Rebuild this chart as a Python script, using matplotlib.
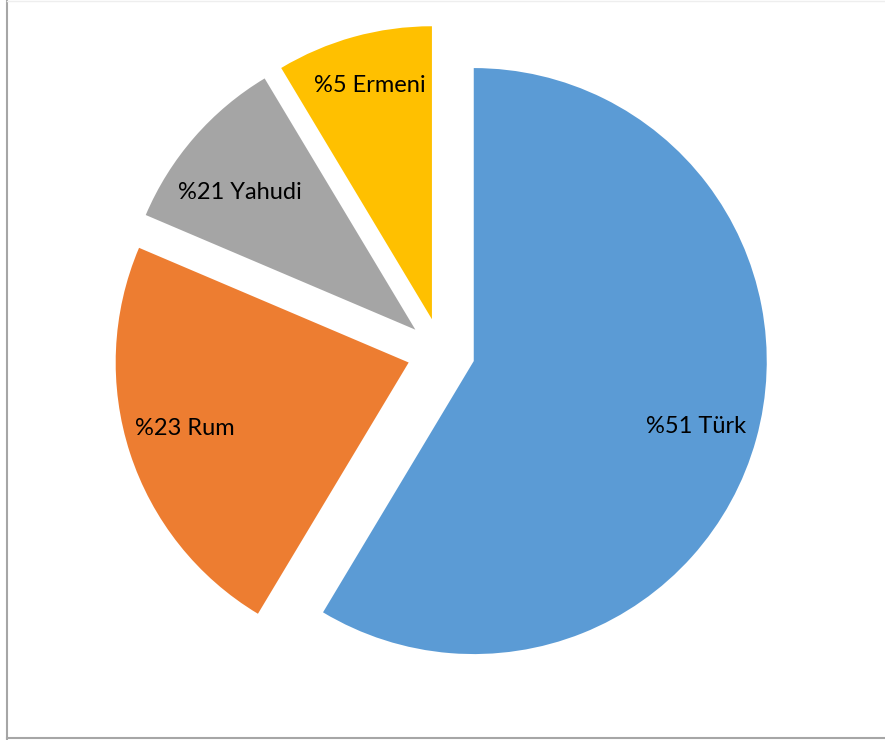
import matplotlib
matplotlib.use("Agg")
import matplotlib.pyplot as plt
from matplotlib.lines import Line2D

# slice sizes as drawn (percent of the circle), clockwise from 12 o'clock
groups = ["Türk", "Rum", "Yahudi", "Ermeni"]
shares = [58.6, 22.8, 10.0, 8.6]
labels = ["%51 Türk", "%23 Rum", "%21 Yahudi", "%5 Ermeni"]
colors = ["#5B9BD5", "#ED7D31", "#A5A5A5", "#FFC000"]
# small nudges of the data labels, in pixels (right, down)
label_nudge = [(-1, 4), (-4, -6), (-1, 15), (0, -11)]

W, H = 885, 740
fig = plt.figure(figsize=(W / 100, H / 100), dpi=100)
ax = fig.add_axes([0, 0, 1, 1])

# pie centre at pixel (441, 352), radius 293 px
r_px, cx, cy = 293.0, 441.0, 352.0
ax.axis("off")

wedges, texts = ax.pie(shares, labels=labels, colors=colors, startangle=90,
                       counterclock=False, explode=[0.116] * len(shares),
                       labeldistance=0.79, radius=1.0,
                       wedgeprops=dict(linewidth=0),
                       textprops=dict(fontsize=17, family="Lato", color="black"))
ax.set_xlim(-cx / r_px, (W - cx) / r_px)
ax.set_ylim(-(H - cy) / r_px, cy / r_px)
ax.set_aspect("auto")
for t, (dx, dy) in zip(texts, label_nudge):
    x, y = t.get_position()
    t.set_position((x + dx / r_px, y - dy / r_px))
    t.set_horizontalalignment("center")
    t.set_verticalalignment("center")

# chart frame
fig.add_artist(Line2D([7 / W, 7 / W], [0, 1], transform=fig.transFigure,
                      color="#A6A6A6", linewidth=1.5))
fig.add_artist(Line2D([7 / W, 1], [2 / H, 2 / H], transform=fig.transFigure,
                      color="#A6A6A6", linewidth=1.5))
fig.add_artist(Line2D([7 / W, 1], [1 - 0.5 / H, 1 - 0.5 / H], transform=fig.transFigure,
                      color="#EEEEEE", linewidth=1))

fig.savefig("out.png", dpi=100)
